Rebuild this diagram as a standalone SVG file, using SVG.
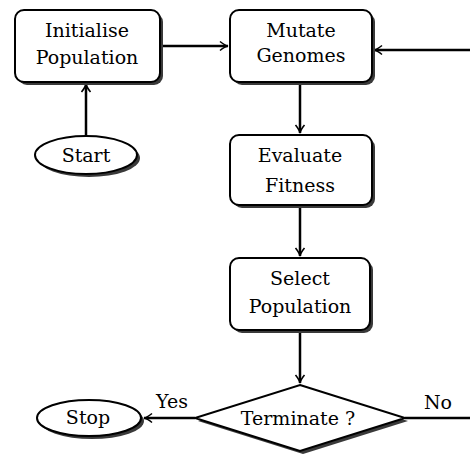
<svg xmlns="http://www.w3.org/2000/svg" width="470" height="458" viewBox="0 0 470 458">
<style>
.sh{fill:#3a3a3a;stroke:none}
.bx{fill:#fff;stroke:#000;stroke-width:2}
.t{font-family:"DejaVu Serif","Liberation Serif",serif;font-size:19px;fill:#000;text-anchor:middle}
.c{fill:none;stroke:#000;stroke-width:2.5}
</style>
<defs>
<marker id="ah" markerWidth="12" markerHeight="12" viewBox="-10 -6 12 12" refX="0" refY="0" orient="auto" markerUnits="userSpaceOnUse">
<path d="M-8,-4.5 Q-3,-0.5 0,0 Q-3,0.5 -8,4.5" fill="none" stroke="#000" stroke-width="1.6"/>
</marker>
</defs>
<rect width="470" height="458" fill="#fff"/>
<g id="connectors">
<path class="c" d="M86,136 V84" marker-end="url(#ah)"/>
<path class="c" d="M160,46 H228" marker-end="url(#ah)"/>
<path class="c" d="M300,83 V133" marker-end="url(#ah)"/>
<path class="c" d="M300,206 V256" marker-end="url(#ah)"/>
<path class="c" d="M300,331 V383" marker-end="url(#ah)"/>
<path class="c" d="M195,418 H144" marker-end="url(#ah)"/>
<path class="c" d="M405,418 H476 V50 H374" marker-end="url(#ah)"/>
<text class="t" x="172" y="408">Yes</text>
<text class="t" x="438" y="409">No</text>
</g>
<g id="init">
<rect class="sh" x="18" y="13" width="145" height="72" rx="9"/>
<rect class="bx" x="15" y="10" width="145" height="72" rx="9"/>
<text class="t" x="87" y="37">Initialise</text>
<text class="t" x="87" y="64">Population</text>
</g>
<g id="mutate">
<rect class="sh" x="233" y="13" width="142" height="72" rx="9"/>
<rect class="bx" x="230" y="10" width="142" height="72" rx="9"/>
<text class="t" x="301" y="37">Mutate</text>
<text class="t" x="301" y="62">Genomes</text>
</g>
<g id="evaluate">
<rect class="sh" x="233" y="138" width="142" height="70" rx="9"/>
<rect class="bx" x="230" y="135" width="142" height="70" rx="9"/>
<text class="t" x="300" y="162">Evaluate</text>
<text class="t" x="300" y="192">Fitness</text>
</g>
<g id="select">
<rect class="sh" x="233" y="261" width="140" height="72" rx="9"/>
<rect class="bx" x="230" y="258" width="140" height="72" rx="9"/>
<text class="t" x="300" y="285">Select</text>
<text class="t" x="300" y="313">Population</text>
</g>
<g id="start">
<ellipse class="sh" cx="89" cy="158" rx="51" ry="19"/>
<ellipse class="bx" cx="86" cy="155" rx="51" ry="19"/>
<text class="t" x="86" y="162">Start</text>
</g>
<g id="terminate">
<polygon class="sh" points="303,388 408,421 303,454 198,421"/>
<polygon class="bx" points="300,385 405,418 300,451 195,418"/>
<text class="t" x="298" y="425">Terminate ?</text>
</g>
<g id="stop">
<ellipse class="sh" cx="92" cy="421" rx="52" ry="18"/>
<ellipse class="bx" cx="89" cy="418" rx="52" ry="18"/>
<text class="t" x="88" y="424">Stop</text>
</g>
</svg>
